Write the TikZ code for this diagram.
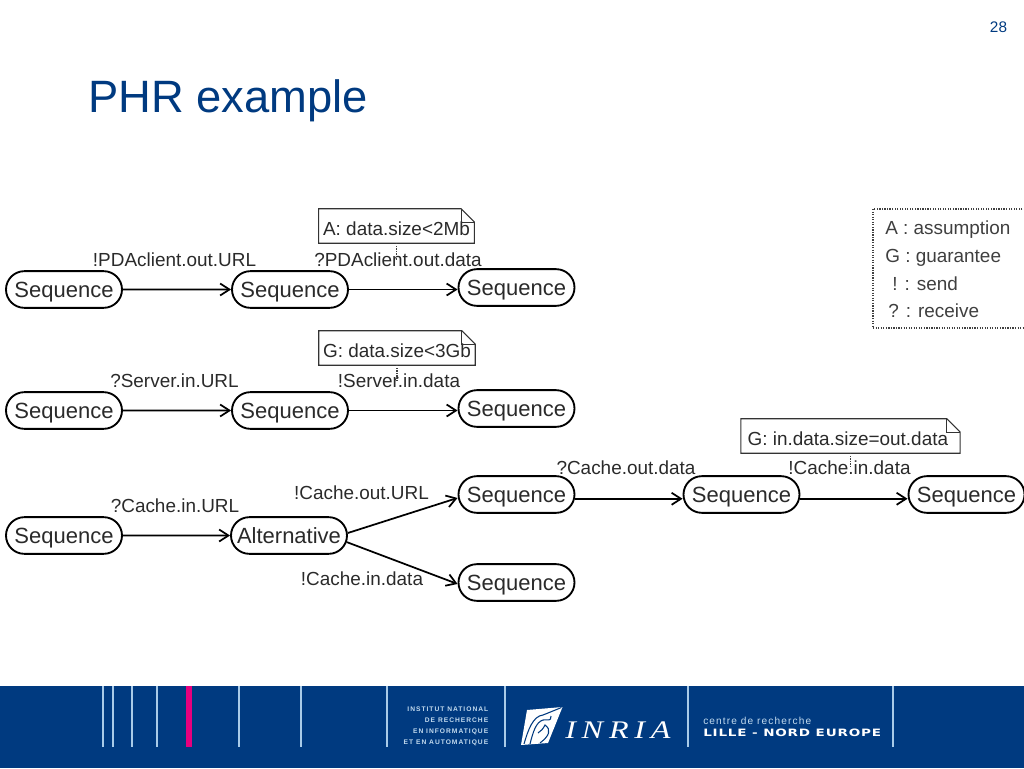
\documentclass[tikz,border=0pt]{standalone}
\usepackage{fontspec}
\setmainfont{Liberation Sans}
\newfontfamily\logofont{Liberation Serif}
\newfontfamily\bandfont{DejaVu Sans}
\usetikzlibrary{arrows.meta,shapes.misc}
\definecolor{inriablue}{HTML}{003A80}
\definecolor{barline}{HTML}{A9CBE8}
\definecolor{barpink}{HTML}{E6007E}
\definecolor{inktext}{HTML}{2A2A2A}
\tikzset{
  seqnode/.style={draw=black,line width=1.4pt,rounded rectangle,minimum width=87pt,minimum height=27.5pt,inner sep=0pt,text height=14.5pt,text depth=3pt,font=\fontsize{16.5}{18}\selectfont,text=inktext},
  msglabel/.style={inner sep=0pt,yshift=-0.75pt,font=\fontsize{14.2}{16}\selectfont,text=inktext},
  notenode/.style={inner sep=0pt,minimum height=25.5pt,text height=16.5pt,text depth=2pt,font=\fontsize{14.2}{16}\selectfont,text=inktext},
  legendtext/.style={inner sep=0pt,anchor=west,yshift=-2pt,font=\fontsize{14.2}{16}\selectfont,text=inktext!90},
  msgarrow/.style={line width=1.3pt,-{Straight Barb[length=7pt,width=9pt]}},
  notelink/.style={densely dotted,line width=0.9pt,draw=black!75},
  barstroke/.style={draw=barline,line width=1pt},
  bartext/.style={inner sep=0pt,anchor=east,text=barline!70!white,font=\fontsize{5}{6}\bfseries\addfontfeature{LetterSpace=15}}
}
% note box with the folded corner
\newcommand{\notefold}[1]{
  \draw[line width=0.8pt,draw=black!80] (#1.south west) -- (#1.north west) -- ([xshift=-10pt]#1.north east)
    -- ([yshift=-10pt]#1.north east) -- (#1.south east) -- cycle;
  \draw[line width=0.8pt,draw=black!80] ([xshift=-10pt]#1.north east) |- ([yshift=-10pt]#1.north east);
}
\begin{document}
\begin{tikzpicture}[x=0.75pt,y=-0.75pt]
  \useasboundingbox (0,0) rectangle (1024,768);

  \node[inner sep=0pt,font=\fontsize{11.5}{13}\selectfont,text=inriablue] (pagenum) at (998.5,27) {28};
  \node[inner sep=0pt,anchor=west,font=\fontsize{34}{38}\selectfont,text=inriablue] (title) at (88,101) {PHR example};

  % first row
  \node[seqnode] (a1) at (64,289.5) {Sequence};
  \node[seqnode] (a2) at (290,289.5) {Sequence};
  \node[seqnode] (a3) at (516.5,287.5) {Sequence};
  \node[msglabel] (la1) at (174.5,259) {!PDAclient.out.URL};
  \node[msglabel] (la2) at (398,259) {?PDAclient.out.data};
  \draw[msgarrow] (a1) -- (a2);
  \draw[msgarrow] (a2.east) -- (a2.east -| a3.west);
  \node[notenode,minimum width=116.5pt] (notea) at (396.5,226) {A: data.size<2Mb};
  \notefold{notea}
  \draw[notelink] (notea.south) -- (notea.south |- la2.center);

  % second row
  \node[seqnode] (b1) at (64,410.5) {Sequence};
  \node[seqnode] (b2) at (290,410.5) {Sequence};
  \node[seqnode] (b3) at (516.5,408.5) {Sequence};
  \node[msglabel] (lb1) at (174.5,380) {?Server.in.URL};
  \node[msglabel] (lb2) at (399,380) {!Server.in.data};
  \draw[msgarrow] (b1) -- (b2);
  \draw[msgarrow] (b2.east) -- (b2.east -| b3.west);
  \node[notenode,minimum width=117pt] (noteb) at (397,348) {G: data.size<3Gb};
  \notefold{noteb}
  \draw[notelink] (noteb.south) -- (noteb.south |- lb2.center);

  % third row
  \node[seqnode] (c1) at (64,535.5) {Sequence};
  \node[seqnode] (c2) at (289,535.5) {Alternative};
  \node[seqnode] (c3) at (516.5,494.5) {Sequence};
  \node[seqnode] (c4) at (741.5,494.5) {Sequence};
  \node[seqnode] (c5) at (966.5,494.5) {Sequence};
  \node[seqnode] (c6) at (516.5,582.5) {Sequence};
  \node[msglabel] (lc1) at (175,505) {?Cache.in.URL};
  \node[msglabel] (lc2) at (361.5,492) {!Cache.out.URL};
  \node[msglabel] (lc3) at (362,578) {!Cache.in.data};
  \node[msglabel] (lc4) at (626,467) {?Cache.out.data};
  \node[msglabel] (lc5) at (849.5,467) {!Cache.in.data};
  \draw[msgarrow] (c1) -- (c2);
  \draw[msgarrow] ([yshift=1.9pt]c2.east) -- ([yshift=-2.6pt]c3.west);
  \draw[msgarrow] ([xshift=-1pt,yshift=-4.9pt]c2.east) -- ([yshift=-1.1pt]c6.west);
  \draw[msgarrow] ([yshift=-3.2pt]c3.east) -- ([yshift=-3.2pt]c4.west);
  \draw[msgarrow] ([yshift=-3.2pt]c4.east) -- ([yshift=-3.2pt]c5.west);
  \node[notenode,minimum width=164pt] (notec) at (850.5,436) {\hspace*{-4pt}G: in.data.size=out.data};
  \notefold{notec}
  \draw[notelink] (notec.south) -- (notec.south |- lc5.center);

  % legend
  \draw[densely dotted,line width=0.9pt,draw=black!75] (1030,209) -- (873,209) -- (873,328) -- (1030,328);
  \node[legendtext] (lega) at (885,227) {A : assumption};
  \node[legendtext] (legg) at (885,255) {G : guarantee};
  \node[legendtext] (legs) at (892,281) {! : send};
  \node[legendtext] (legr) at (888,308) {? : receive};

  % bottom band
  \fill[inriablue] (0,686) rectangle (1024,768);
  \foreach \xpos in {103,113,132,157,239,301,387,505,688,893}
    \draw[barstroke] (\xpos,686) -- (\xpos,747);
  \fill[barpink] (186,686) rectangle (192,747);
  \node[bartext] (inst1) at (488.5,709) {INSTITUT NATIONAL};
  \node[bartext] (inst2) at (488.5,720.5) {DE RECHERCHE};
  \node[bartext] (inst3) at (488.5,732) {EN INFORMATIQUE};
  \node[bartext] (inst4) at (488.5,743) {ET EN AUTOMATIQUE};
  % bird of the logo
  \fill[white] (527,710) -- (562.5,707) -- (548,743) -- (521,745) -- cycle;
  \draw[inriablue,line width=0.8pt] (524,744) .. controls (528,730) and (533,716) .. (543,715) -- (561.5,707.5);
  \draw[inriablue,line width=0.8pt] (530,744) .. controls (533,732) and (536,722) .. (543,720) .. controls (548,719) and (551,722) .. (551,716);
  \draw[inriablue,line width=0.8pt] (540,743) .. controls (549,736) and (552,730) .. (545,725) .. controls (543,729) and (541,731) .. (538,733);
  \node[inner sep=0pt,anchor=west,text=white,font=\logofont\itshape\fontsize{19}{22}\addfontfeature{LetterSpace=18}\selectfont] (inria) at (565,730) {\scalebox{1.27}[1]{INRIA}};
  \node[inner sep=0pt,anchor=west,text=barline!70!white,font=\fontsize{7.6}{9}\selectfont\addfontfeature{LetterSpace=11}] (centre) at (703,721) {centre de recherche};
  \node[inner sep=0pt,anchor=west,text=white,font=\bandfont\fontsize{7.6}{9}\bfseries\addfontfeature{LetterSpace=6}] (lille) at (703,733) {\scalebox{1.335}[1]{LILLE - NORD EUROPE}};
\end{tikzpicture}
\end{document}
